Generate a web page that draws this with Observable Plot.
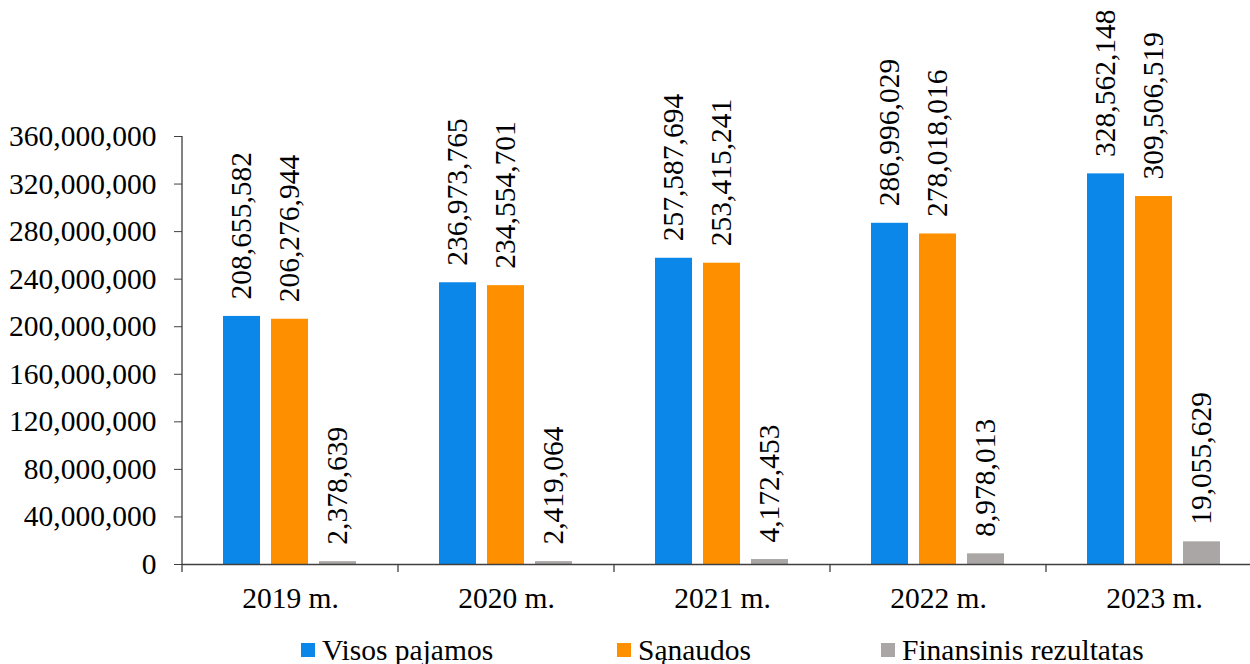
<!DOCTYPE html>
<html>
<head>
<meta charset="utf-8">
<script src="https://cdn.jsdelivr.net/npm/d3@7"></script>
<script src="https://cdn.jsdelivr.net/npm/@observablehq/plot@0.6"></script>
<style>
  html, body { margin: 0; padding: 0; background: #fff; overflow: hidden; }
  #wrap { position: relative; width: 1250px; height: 664px; font-family: "Liberation Serif", "Times New Roman", serif; }
  #chart svg text { font-family: "Liberation Serif", "Times New Roman", serif !important; font-variant: normal !important; font-variant-numeric: normal !important; }
  #legend { position: absolute; top: 633px; left: 0; width: 1250px; height: 31px; font-size: 29.5px; color: #000; }
  .item { position: absolute; top: 0; display: flex; align-items: center; white-space: nowrap; line-height: 34px; }
  .sw { display: inline-block; width: 14px; height: 14px; margin-right: 7px; }
</style>
</head>
<body>
<div id="wrap">
  <div id="chart"></div>
  <div id="legend"></div>
</div>
<script>
const years = ["2019 m.", "2020 m.", "2021 m.", "2022 m.", "2023 m."];
const seriesNames = ["Visos pajamos", "Sąnaudos", "Finansinis rezultatas"];
const visosPajamos = [208655582, 236973765, 257587694, 286996029, 328562148];
const sanaudos = [206276944, 234554701, 253415241, 278018016, 309506519];
const finansinisRezultatas = [2378639, 2419064, 4172453, 8978013, 19055629];
const seriesColors = ["#0a87e9", "#fe9000", "#aaa6a6"];
const yTicks = [0, 40000000, 80000000, 120000000, 160000000, 200000000, 240000000, 280000000, 320000000, 360000000];

const seriesValues = [visosPajamos, sanaudos, finansinisRezultatas];
const data = years.flatMap((yr, i) => seriesNames.map((s, j) => ({year: yr, series: s, value: seriesValues[j][i]})));
const fmt = d3.format(",");

const chart = Plot.plot({
  width: 1250,
  height: 625,
  marginLeft: 181,
  marginRight: -12,
  marginTop: 136,
  marginBottom: 61,
  style: {fontFamily: "Liberation Serif, serif", fontSize: "29.5px", color: "#000", background: "transparent", overflow: "visible"},
  fx: {domain: years, paddingInner: 0, paddingOuter: 0, label: null, axis: null},
  x: {domain: seriesNames, paddingInner: 0.229, paddingOuter: 0.864, axis: null},
  y: {domain: [0, 360000000], label: null},
  color: {domain: seriesNames, range: seriesColors},
  marks: [
    Plot.barY(data, {fx: "year", x: "series", y: "value", fill: "series"}),
    Plot.ruleY([0], {stroke: "#404040", strokeWidth: 1.3}),
    Plot.text(data, {fx: "year", x: "series", y: "value", text: d => fmt(d.value), rotate: -90, textAnchor: "start", lineAnchor: "middle", dy: -17, fill: "#000", fontVariant: "normal"}),
    Plot.axisY({ticks: yTicks, tickFormat: fmt, tickSize: 8, tickPadding: 18, label: null, stroke: "#404040", fontVariant: "normal"}),
    Plot.axisFx({anchor: "bottom", tickSize: 0, tickPadding: 23, label: null})
  ]
});
document.getElementById("chart").appendChild(chart);

// axis line and category boundary ticks, placed with the library's scales
const svg = d3.select(chart);
const fx = chart.scale("fx");
const ys = chart.scale("y");
const y0 = ys.apply(0), yTop = ys.apply(360000000);
const g = svg.append("g").attr("stroke", "#404040").attr("stroke-width", 1.3);
const x0 = fx.apply(years[0]);
g.append("line").attr("x1", x0).attr("x2", x0).attr("y1", yTop).attr("y2", y0 + 8);
years.slice(1).forEach(yr => {
  const xb = fx.apply(yr);
  g.append("line").attr("x1", xb).attr("x2", xb).attr("y1", y0).attr("y2", y0 + 8);
});

// legend
const lefts = [301, 617, 881];
const legend = document.getElementById("legend");
seriesNames.forEach((s, i) => {
  const it = document.createElement("div");
  it.className = "item";
  it.style.left = lefts[i] + "px";
  it.innerHTML = `<span class="sw" style="background:${seriesColors[i]}"></span><span>${s}</span>`;
  legend.appendChild(it);
});
</script>
</body>
</html>
